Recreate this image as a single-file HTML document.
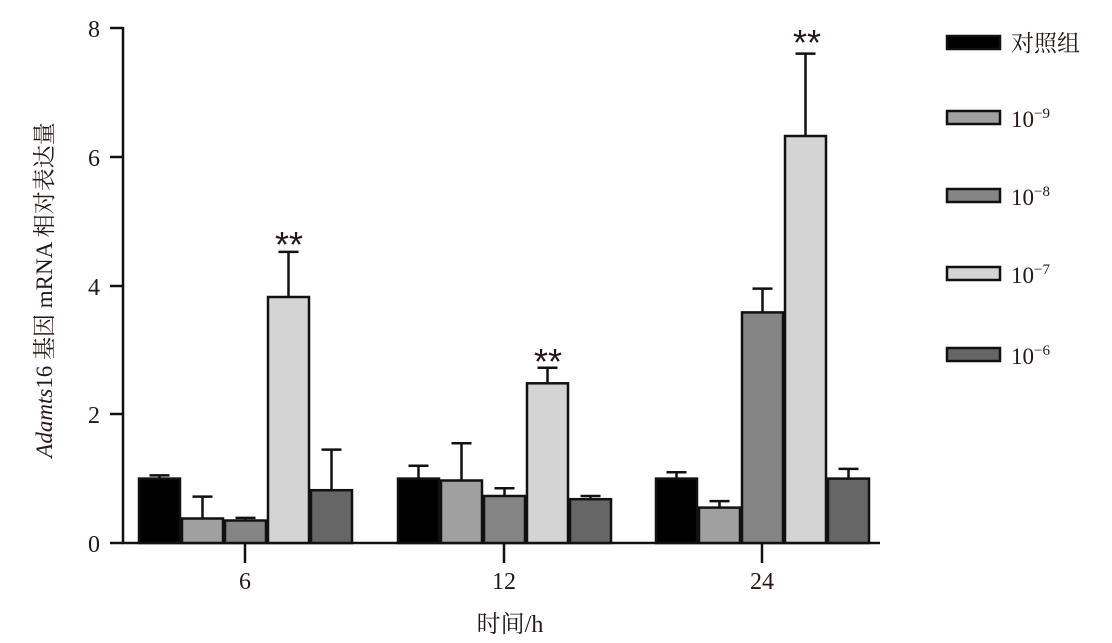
<!DOCTYPE html>
<html><head><meta charset="utf-8"><style>body{margin:0;background:#fff}svg{display:block}text{font-family:"Liberation Serif","Noto Serif CJK SC",serif;fill:#231815}</style></head><body>
<svg width="1112" height="643" viewBox="0 0 1112 643" xmlns="http://www.w3.org/2000/svg">
<g stroke="#111" stroke-width="2.5" fill="none">
<line x1="123" y1="27" x2="123" y2="544"/>
<line x1="122" y1="543" x2="880" y2="543"/>
<line x1="110" y1="28" x2="123" y2="28"/>
<line x1="110" y1="157" x2="123" y2="157"/>
<line x1="110" y1="286" x2="123" y2="286"/>
<line x1="110" y1="414" x2="123" y2="414"/>
<line x1="110" y1="543" x2="123" y2="543"/>
<line x1="245" y1="543" x2="245" y2="563"/>
<line x1="504" y1="543" x2="504" y2="563"/>
<line x1="762" y1="543" x2="762" y2="563"/>
</g>
<g font-size="24" text-anchor="end">
<text x="100" y="37">8</text><text x="100" y="166">6</text><text x="100" y="295">4</text><text x="100" y="423">2</text><text x="100" y="552">0</text>
</g>
<g font-size="24" text-anchor="middle">
<text x="245" y="589">6</text><text x="504" y="589">12</text><text x="762" y="589">24</text>
<text x="510" y="632">时间/h</text>
</g>
<text transform="translate(52,290) rotate(-90)" font-size="23" text-anchor="middle"><tspan font-style="italic">Adamts</tspan>16 基因 mRNA 相对表达量</text>
<g stroke="#111" stroke-width="2.5" fill="none">
<path d="M159.5 478.6V475.4M149.5 475.4H169.5"/>
<path d="M202.5 518.5V496.6M192.5 496.6H212.5"/>
<path d="M245.5 520.5V517.9M235.5 517.9H255.5"/>
<path d="M288.5 297V251.9M278.5 251.9H298.5"/>
<path d="M331.5 490.2V449.6M321.5 449.6H341.5"/>
<path d="M418.5 478.6V465.7M408.5 465.7H428.5"/>
<path d="M461.5 480.5V443.2M451.5 443.2H471.5"/>
<path d="M504.5 496V488.3M494.5 488.3H514.5"/>
<path d="M547.5 383.3V367.8M537.5 367.8H557.5"/>
<path d="M590.5 499.2V496M580.5 496H600.5"/>
<path d="M676.5 478.6V472.2M666.5 472.2H686.5"/>
<path d="M719.5 507.6V501.1M709.5 501.1H729.5"/>
<path d="M762.5 312.4V288.6M752.5 288.6H772.5"/>
<path d="M805.5 136V53.6M795.5 53.6H815.5"/>
<path d="M848.5 478.6V468.9M838.5 468.9H858.5"/>
</g>
<g stroke="#111" stroke-width="2.5">
<rect x="139" y="478.6" width="41" height="64.4" fill="#000"/>
<rect x="182" y="518.5" width="41" height="24.5" fill="#a0a0a0"/>
<rect x="225" y="520.5" width="41" height="22.5" fill="#858585"/>
<rect x="268" y="297" width="41" height="246" fill="#d4d4d4"/>
<rect x="311" y="490.2" width="41" height="52.8" fill="#666"/>
<rect x="398" y="478.6" width="41" height="64.4" fill="#000"/>
<rect x="441" y="480.5" width="41" height="62.5" fill="#a0a0a0"/>
<rect x="484" y="496" width="41" height="47" fill="#858585"/>
<rect x="527" y="383.3" width="41" height="159.7" fill="#d4d4d4"/>
<rect x="570" y="499.2" width="41" height="43.8" fill="#666"/>
<rect x="656" y="478.6" width="41" height="64.4" fill="#000"/>
<rect x="699" y="507.6" width="41" height="35.4" fill="#a0a0a0"/>
<rect x="742" y="312.4" width="41" height="230.6" fill="#858585"/>
<rect x="785" y="136" width="41" height="407" fill="#d4d4d4"/>
<rect x="828" y="478.6" width="41" height="64.4" fill="#666"/>
</g>
<g font-size="36" text-anchor="middle">
<text x="289" y="257" style="font-family:'Liberation Sans'">**</text>
<text x="548" y="374" style="font-family:'Liberation Sans'">**</text>
<text x="807" y="55" style="font-family:'Liberation Sans'">**</text>
</g>
<g stroke="#111" stroke-width="2.5">
<rect x="947" y="36" width="53" height="13" fill="#000"/>
<rect x="947" y="111" width="53" height="13" fill="#a0a0a0"/>
<rect x="947" y="189" width="53" height="13" fill="#858585"/>
<rect x="947" y="267" width="53" height="13" fill="#d4d4d4"/>
<rect x="947" y="348" width="53" height="13" fill="#666"/>
</g>
<g font-size="23">
<text x="1011" y="51">对照组</text>
<text x="1011" y="127">10<tspan font-size="15" dy="-9">−9</tspan></text>
<text x="1011" y="205">10<tspan font-size="15" dy="-9">−8</tspan></text>
<text x="1011" y="283">10<tspan font-size="15" dy="-9">−7</tspan></text>
<text x="1011" y="364">10<tspan font-size="15" dy="-9">−6</tspan></text>
</g>
</svg>
</body></html>
